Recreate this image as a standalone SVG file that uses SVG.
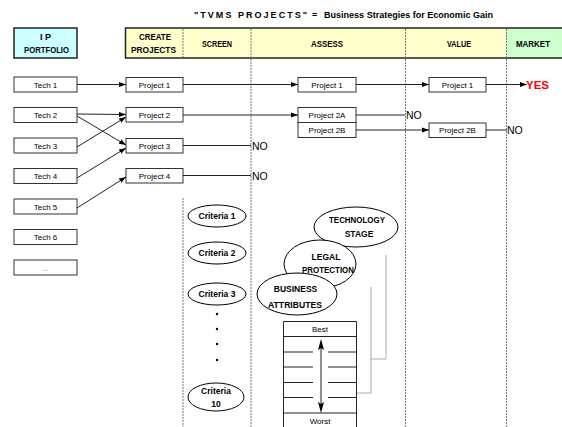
<svg xmlns="http://www.w3.org/2000/svg" width="562" height="427" viewBox="0 0 562 427">
<style>
text{font-family:"Liberation Sans",Arial,sans-serif;fill:#000}
.hd{font-size:9px;font-weight:bold;text-anchor:middle}
.bx{fill:#fff;stroke:#333;stroke-width:1}
.lb{font-size:8px;text-anchor:middle}
.no{font-size:10.5px}
.cr{font-size:8.5px;font-weight:bold;text-anchor:middle}
.el{fill:#fff;stroke:#000;stroke-width:1}
.dv{stroke:#777;stroke-width:1;stroke-dasharray:2,1;fill:none}
.ln{stroke:#222;stroke-width:1;fill:none}
.gr{stroke:#aaa;stroke-width:1;fill:none}
</style>
<defs>
<marker id="ah" markerWidth="7" markerHeight="6" refX="7" refY="3" orient="auto" markerUnits="userSpaceOnUse">
<path d="M0,0.5 L7,3 L0,5.5 Z" fill="#000"/>
</marker>
</defs>
<rect width="562" height="427" fill="#fff"/>

<g id="title">
<text x="194" y="18" font-size="9" font-weight="bold" textLength="113" lengthAdjust="spacing">"TVMS PROJECTS"</text>
<text x="312" y="18" font-size="9" font-weight="bold">=</text>
<text x="324" y="18" font-size="9" font-weight="bold" textLength="169" lengthAdjust="spacingAndGlyphs">Business Strategies for Economic Gain</text>
</g>

<g id="ip-portfolio">
<rect x="14" y="28" width="63" height="30" fill="#ccffff" stroke="#222" stroke-width="1.5"/>
<text class="hd" x="45.5" y="40">I P</text>
<text class="hd" x="46.5" y="53" textLength="45" lengthAdjust="spacingAndGlyphs">PORTFOLIO</text>
</g>

<g id="header-bar">
<rect x="125" y="28" width="381" height="30" fill="#ffffcc"/>
<rect x="506" y="28" width="56" height="30" fill="#ccffcc"/>
<path d="M562,28 H125.5 V58 H562" fill="none" stroke="#222" stroke-width="1.5"/>
<text class="hd" x="155" y="40" textLength="32" lengthAdjust="spacingAndGlyphs">CREATE</text>
<text class="hd" x="153.5" y="53" textLength="45" lengthAdjust="spacingAndGlyphs">PROJECTS</text>
<text class="hd" x="217" y="46.5" textLength="30" lengthAdjust="spacingAndGlyphs">SCREEN</text>
<text class="hd" x="327" y="46.5" textLength="32" lengthAdjust="spacingAndGlyphs">ASSESS</text>
<text class="hd" x="459" y="46.5" textLength="24" lengthAdjust="spacingAndGlyphs">VALUE</text>
<text class="hd" x="533" y="46.5" textLength="34" lengthAdjust="spacingAndGlyphs">MARKET</text>
</g>

<g id="dividers">
<line class="dv" x1="183" y1="29" x2="183" y2="57"/>
<line class="dv" x1="183" y1="198" x2="183" y2="427"/>
<line class="dv" x1="251" y1="29" x2="251" y2="427"/>
<line class="dv" x1="405.5" y1="29" x2="405.5" y2="427"/>
<line class="dv" x1="506.5" y1="29" x2="506.5" y2="427"/>
</g>

<g id="tech-1"><rect class="bx" x="14" y="77" width="63" height="15"/><text class="lb" x="45.5" y="87.5">Tech 1</text></g>
<g id="tech-2"><rect class="bx" x="14" y="107.5" width="63" height="15"/><text class="lb" x="45.5" y="118">Tech 2</text></g>
<g id="tech-3"><rect class="bx" x="14" y="138" width="63" height="15"/><text class="lb" x="45.5" y="148.5">Tech 3</text></g>
<g id="tech-4"><rect class="bx" x="14" y="168.5" width="63" height="15"/><text class="lb" x="45.5" y="179">Tech 4</text></g>
<g id="tech-5"><rect class="bx" x="14" y="199" width="63" height="15"/><text class="lb" x="45.5" y="209.5">Tech 5</text></g>
<g id="tech-6"><rect class="bx" x="14" y="229.5" width="63" height="15"/><text class="lb" x="45.5" y="240">Tech 6</text></g>
<g id="tech-more"><rect class="bx" x="14" y="260" width="63" height="15"/><text class="lb" x="45.5" y="270.5" style="fill:#888">...</text></g>

<g id="project-1"><rect class="bx" x="126" y="77.5" width="57" height="14.5"/><text class="lb" x="154.5" y="87.5">Project 1</text></g>
<g id="project-2"><rect class="bx" x="126" y="107.5" width="57" height="14.5"/><text class="lb" x="154.5" y="118">Project 2</text></g>
<g id="project-3"><rect class="bx" x="126" y="138.5" width="57" height="14.5"/><text class="lb" x="154.5" y="148.5">Project 3</text></g>
<g id="project-4"><rect class="bx" x="126" y="168.5" width="57" height="14.5"/><text class="lb" x="154.5" y="179">Project 4</text></g>

<g id="assess-project-1"><rect class="bx" x="298" y="77.5" width="58" height="14.5"/><text class="lb" x="327" y="87.5">Project 1</text></g>
<g id="assess-project-2a"><rect class="bx" x="298" y="107.5" width="58" height="15"/><text class="lb" x="327" y="118">Project 2A</text></g>
<g id="assess-project-2b"><rect class="bx" x="298" y="122.5" width="58" height="15"/><text class="lb" x="327" y="133">Project 2B</text></g>

<g id="value-project-1"><rect class="bx" x="429" y="77.5" width="57" height="14.5"/><text class="lb" x="457.5" y="87.5">Project 1</text></g>
<g id="value-project-2b"><rect class="bx" x="429" y="123" width="57" height="14.5"/><text class="lb" x="457.5" y="133">Project 2B</text></g>

<g id="connectors">
<line class="ln" x1="77" y1="84.5" x2="126" y2="84.5" marker-end="url(#ah)"/>
<line class="ln" x1="77" y1="114" x2="126" y2="114.5" marker-end="url(#ah)"/>
<line class="ln" x1="77" y1="116" x2="126" y2="145" marker-end="url(#ah)"/>
<line class="ln" x1="77" y1="147" x2="126" y2="117" marker-end="url(#ah)"/>
<line class="ln" x1="77" y1="178" x2="126" y2="148" marker-end="url(#ah)"/>
<line class="ln" x1="77" y1="208" x2="126" y2="177" marker-end="url(#ah)"/>
<line class="ln" x1="183" y1="84.5" x2="298" y2="84.5" marker-end="url(#ah)"/>
<line class="ln" x1="183" y1="115" x2="298" y2="115" marker-end="url(#ah)"/>
<line class="ln" x1="183" y1="145.5" x2="251" y2="145.5"/>
<line class="ln" x1="183" y1="175.5" x2="251" y2="175.5"/>
<line class="ln" x1="356" y1="84.5" x2="429" y2="84.5" marker-end="url(#ah)"/>
<line class="ln" x1="356" y1="115" x2="405" y2="115"/>
<line class="ln" x1="356" y1="130" x2="429" y2="130" marker-end="url(#ah)"/>
<line class="ln" x1="486" y1="84.5" x2="527" y2="84.5" marker-end="url(#ah)"/>
<line class="ln" x1="486" y1="130" x2="507" y2="130"/>
</g>

<g id="outcomes">
<text class="no" x="252" y="149.5">NO</text>
<text class="no" x="252" y="179.5">NO</text>
<text class="no" x="406" y="119">NO</text>
<text class="no" x="507" y="134">NO</text>
<text x="526" y="88.5" font-size="11.5" font-weight="bold" style="fill:#ff0000">YES</text>
</g>

<g id="criteria-1"><ellipse class="el" cx="217" cy="216" rx="29" ry="11"/><text class="cr" x="217" y="219">Criteria 1</text></g>
<g id="criteria-2"><ellipse class="el" cx="217" cy="253" rx="29" ry="11"/><text class="cr" x="217" y="256">Criteria 2</text></g>
<g id="criteria-3"><ellipse class="el" cx="217" cy="294" rx="29" ry="11"/><text class="cr" x="217" y="297">Criteria 3</text></g>
<g id="criteria-dots">
<circle cx="217" cy="314" r="1.2"/><circle cx="217" cy="329" r="1.2"/><circle cx="217" cy="344" r="1.2"/><circle cx="217" cy="360" r="1.2"/>
</g>
<g id="criteria-10"><ellipse class="el" cx="216" cy="397" rx="28" ry="14"/><text class="cr" x="216" y="394">Criteria</text><text class="cr" x="216" y="407">10</text></g>

<g id="ladder-backs">
<polyline class="gr" points="386,255 386,359 371,359"/>
<polyline class="gr" points="371,287 371,393 356,393"/>
</g>

<g id="technology-stage"><ellipse class="el" cx="356" cy="227" rx="42" ry="20"/><text class="cr" x="357" y="223" textLength="56" lengthAdjust="spacingAndGlyphs">TECHNOLOGY</text><text class="cr" x="359" y="237">STAGE</text></g>
<g id="legal-protection"><ellipse class="el" cx="320" cy="264" rx="36" ry="24"/><text class="cr" x="326" y="260">LEGAL</text><text class="cr" x="328" y="273" textLength="52" lengthAdjust="spacingAndGlyphs">PROTECTION</text></g>
<g id="business-attributes"><ellipse class="el" cx="297" cy="294" rx="40" ry="21"/><text class="cr" x="295.5" y="292">BUSINESS</text><text class="cr" x="295" y="308" textLength="54" lengthAdjust="spacingAndGlyphs">ATTRIBUTES</text></g>

<g id="rating-scale">
<path d="M283.5,427 V321.5 H356.5 V427" fill="#fff" stroke="#222"/>
<line class="ln" x1="283.5" y1="336.5" x2="356.5" y2="336.5"/>
<path class="ln" d="M283.5,352 H313 M328,352 H356.5 M283.5,367 H313 M328,367 H356.5 M283.5,382.5 H313 M328,382.5 H356.5 M283.5,397.5 H313 M328,397.5 H356.5"/>
<line class="ln" x1="283.5" y1="413" x2="356.5" y2="413"/>
<text class="lb" x="320" y="332">Best</text>
<text class="lb" x="320" y="424">Worst</text>
<line class="ln" x1="321" y1="345" x2="321" y2="407"/>
<path d="M321,339 L318,350 L321,348 L324,350 Z" fill="#000"/>
<path d="M321,413 L318,402 L321,404 L324,402 Z" fill="#000"/>
</g>
</svg>
